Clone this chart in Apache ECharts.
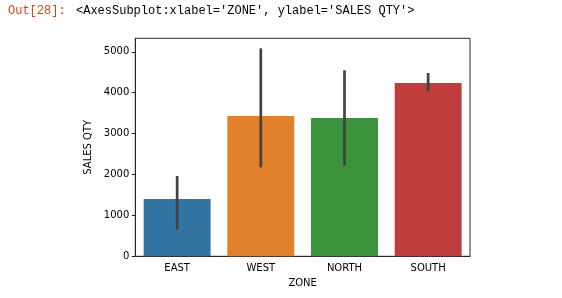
<!DOCTYPE html>
<html>
<head>
<meta charset="utf-8">
<script src="https://cdn.jsdelivr.net/npm/echarts@6/dist/echarts.min.js"></script>
<style>
html,body{margin:0;padding:0;background:#fff;}
#chart{width:562px;height:298px;}
</style>
</head>
<body>
<div id="chart"></div>
<script>
const zones = ['EAST', 'WEST', 'NORTH', 'SOUTH'];
const salesQty = [1401, 3430, 3381, 4237];
const ciLow = [650, 2176, 2215, 4042];
const ciHigh = [1963, 5085, 4548, 4482];
const barColors = ['#3274a1', '#e1812c', '#3a923a', '#c03d3e'];
const yTicks = [0, 1000, 2000, 3000, 4000, 5000];

const chart = echarts.init(document.getElementById('chart'), null, {renderer: 'canvas'});
const font = 'DejaVu Sans';
chart.setOption({
  animation: false,
  backgroundColor: '#fff',
  graphic: [
    {type: 'text', left: 8, top: 5, style: {text: 'Out[28]:', font: '12px "Liberation Mono"', fill: '#d84315'}},
    {type: 'text', left: 76, top: 5, style: {text: "<AxesSubplot:xlabel='ZONE', ylabel='SALES QTY'>", font: '12px "Liberation Mono"', fill: '#000'}}
  ],
  grid: {left: 135.3, top: 38.3, right: 92, bottom: 41.7, show: true, borderColor: '#262626', borderWidth: 1, backgroundColor: 'transparent'},
  xAxis: {
    type: 'category', data: zones,
    name: 'ZONE', nameLocation: 'middle', nameGap: 22,
    nameTextStyle: {fontFamily: font, fontSize: 10, color: '#000'},
    axisLine: {lineStyle: {color: '#262626', width: 1}},
    axisTick: {alignWithLabel: true, length: 3.5, lineStyle: {color: '#262626'}},
    axisLabel: {fontFamily: font, fontSize: 10, color: '#000', margin: 7}
  },
  yAxis: {
    type: 'value', min: 0, max: 5330, interval: 1000,
    name: 'SALES QTY', nameLocation: 'middle', nameGap: 35,
    nameTextStyle: {fontFamily: font, fontSize: 10, color: '#000'},
    splitLine: {show: false},
    axisLine: {show: true, lineStyle: {color: '#262626', width: 1}},
    axisTick: {show: true, length: 3.5, lineStyle: {color: '#262626'}},
    axisLabel: {fontFamily: font, fontSize: 10, color: '#000', margin: 6, showMaxLabel: false,
      formatter: v => (yTicks.indexOf(v) >= 0 ? String(v) : '')}
  },
  series: [
    {
      type: 'bar', barWidth: '80%',
      data: salesQty.map((v, i) => ({value: v, itemStyle: {color: barColors[i]}}))
    },
    {
      type: 'custom',
      data: zones.map((z, i) => [i, ciLow[i], ciHigh[i]]),
      renderItem: function (params, api) {
        const p1 = api.coord([api.value(0), api.value(1)]);
        const p2 = api.coord([api.value(0), api.value(2)]);
        return {type: 'line', shape: {x1: p1[0], y1: p1[1], x2: p2[0], y2: p2[1]},
          style: {stroke: '#424242', lineWidth: 2.7}};
      },
      z: 5
    }
  ]
});
</script>
</body>
</html>
